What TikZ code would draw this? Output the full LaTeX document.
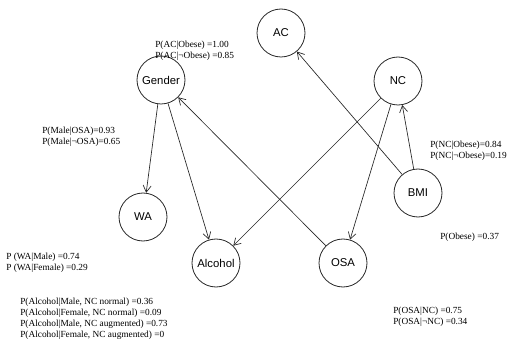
\documentclass[tikz,border=0pt]{standalone}
\usepackage{fontspec}
\setmainfont{Liberation Serif}
\setsansfont{Liberation Sans}
\usetikzlibrary{arrows.meta}

\tikzset{
  var/.style={circle,draw=black!85,line width=0.6pt,minimum size=36pt,inner sep=0pt,
    font=\sffamily\fontsize{8.5}{10}\selectfont},
  cpt/.style={anchor=west,align=left,inner sep=0.75pt,
    font=\fontsize{7}{8.25}\selectfont},
  link/.style={draw=black!85,line width=0.5pt,-{Straight Barb[length=5pt,width=6pt]}}
}

\begin{document}
\begin{tikzpicture}[x=0.75pt,y=0.75pt,yscale=-1,xscale=1]
\useasboundingbox (0,0) rectangle (508,346);

% Variables
\node [var] (ac) at (281,33) {AC};
\node [var] (gender) at (161,80) {Gender};
\node [var] (nc) at (398,81) {NC};
\node [var] (wa) at (143,217) {WA};
\node [var] (bmi) at (418,193) {BMI};
\node [var] (alcohol) at (216,263) {Alcohol};
\node [var] (osa) at (343,263) {OSA};

% Links
\draw [link] (gender) -- (wa);
\draw [link] (gender) -- (alcohol);
\draw [link] (osa) -- (gender);
\draw [link] (nc) -- (alcohol);
\draw [link] (nc) -- (osa);
\draw [link] (bmi) -- (ac);
\draw [link] (bmi) -- (nc);

% Probability tables
\node [cpt] (acp) at (154,51) {P(AC|Obese) =1.00\\P(AC|¬Obese) =0.85};
\node [cpt] (genderp) at (41,137) {P(Male|OSA)=0.93\\P(Male|¬OSA)=0.65};
\node [cpt] (ncp) at (429,151) {P(NC|Obese)=0.84\\P(NC|¬Obese)=0.19};
\node [cpt] (wap) at (5,263) {P (WA|Male) =0.74\\P (WA|Female) =0.29};
\node [cpt] (bmip) at (439,237) {P(Obese) =0.37};
\node [cpt] (alcoholp) at (19,319) {P(Alcohol|Male, NC normal) =0.36\\P(Alcohol|Female, NC normal) =0.09\\P(Alcohol|Male, NC augmented) =0.73\\P(Alcohol|Female, NC augmented) =0};
\node [cpt] (osap) at (392,317) {P(OSA|NC) =0.75\\P(OSA|¬NC) =0.34};

\end{tikzpicture}
\end{document}
